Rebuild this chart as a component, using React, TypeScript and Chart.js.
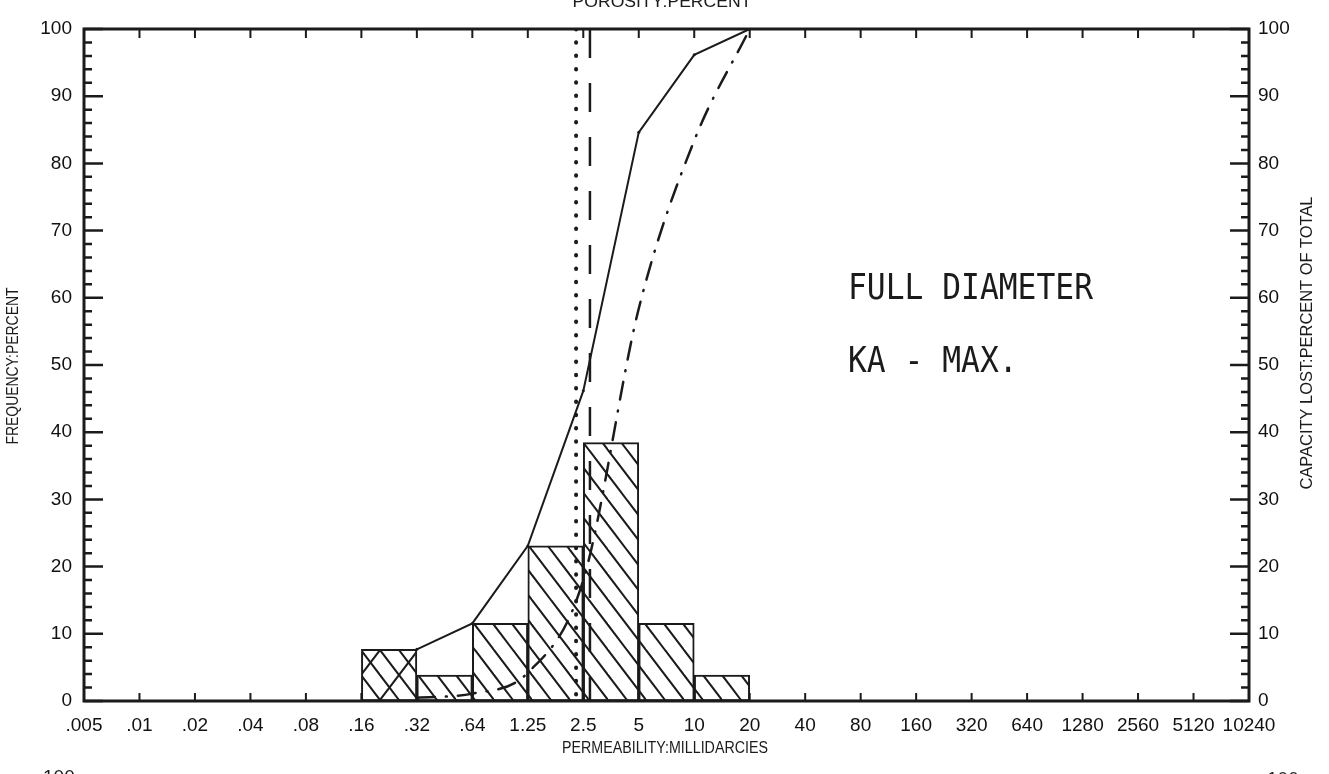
import React, { useEffect, useRef } from 'react';
import { Chart, registerables } from 'chart.js';

Chart.register(...registerables);

// ---- data ----
const xTickLabels = ['.005', '.01', '.02', '.04', '.08', '.16', '.32', '.64', '1.25', '2.5', '5', '10', '20', '40', '80', '160', '320', '640', '1280', '2560', '5120', '10240'];
const histFirstBinIndex = 5; // first histogram bin starts at .16
const frequencyPercent = [7.69, 3.85, 11.54, 23.08, 38.46, 11.54, 3.85];
const cumulativeIndex = [6, 7, 8, 9, 10, 11, 12];
const cumulativeFrequency = [7.69, 11.54, 23.08, 46.15, 84.62, 96.15, 100];
const capacityIndex = [6, 7, 8, 9, 10, 11, 12];
const capacityLost = [0.5, 1.1, 4.2, 18, 58.4, 83.4, 100];
const geometricMeanIndex = 8.87; // dotted vertical
const medianIndex = 9.12; // dashed vertical
const yMajorStep = 10;
const yMinorStep = 2;

const SANS = "'Liberation Sans', Arial, Helvetica, sans-serif";
const INK = '#1b1b1b';

function makeHatch(cross: boolean): CanvasPattern | string {
  // tile holds two "\" strokes; the cross variant adds one sparser "/" stroke
  const w = 38, h = 50;
  const c = document.createElement('canvas');
  c.width = w; c.height = h;
  const g = c.getContext('2d');
  if (!g) return 'transparent';
  g.fillStyle = '#ffffff';
  g.fillRect(0, 0, w, h);
  g.strokeStyle = INK;
  g.lineWidth = 2;
  const step = w / 2;
  for (let dx = -2 * w; dx <= 2 * w; dx += step) {
    g.beginPath(); g.moveTo(dx - w, -h); g.lineTo(dx + w, h); g.lineTo(dx + 2 * w, 2 * h); g.stroke();
  }
  if (cross) {
    for (const dx of [-w, 0, w]) {
      g.beginPath(); g.moveTo(dx - w, 2 * h); g.lineTo(dx + 2 * w, -h); g.stroke();
    }
  }
  return g.createPattern(c, 'repeat') || 'transparent';
}

// draws text squeezed horizontally to a given width (narrow plotter lettering)
function squeezedText(ctx: CanvasRenderingContext2D, text: string, cx: number, cy: number, width: number, rotation: number) {
  const w = ctx.measureText(text).width;
  ctx.save();
  ctx.translate(cx, cy);
  ctx.rotate(rotation);
  ctx.scale(width / w, 1);
  ctx.textAlign = 'center';
  ctx.fillText(text, 0, 0);
  ctx.restore();
}

const decorPlugin = {
  id: 'decor',
  afterDraw(chart: any) {
    const { ctx, chartArea } = chart;
    const { left, right, top, bottom } = chartArea;
    const x = chart.scales.x;
    const y = chart.scales.y;
    const y1 = chart.scales.y1;
    ctx.save();
    ctx.strokeStyle = INK;
    ctx.fillStyle = INK;
    // frame
    ctx.lineWidth = 3;
    ctx.strokeRect(left, top, right - left, bottom - top);
    // inward y ticks
    ctx.lineWidth = 2.5;
    for (let v = 0; v <= 100; v += yMinorStep) {
      const major = v % yMajorStep === 0;
      const py = y.getPixelForValue(v);
      const py1 = y1.getPixelForValue(v);
      ctx.beginPath();
      ctx.moveTo(left, py); ctx.lineTo(left + (major ? 19 : 8), py);
      ctx.moveTo(right, py1); ctx.lineTo(right - (major ? 19 : 8), py1);
      ctx.stroke();
    }
    // inward x ticks (bottom and top)
    ctx.lineWidth = 2;
    for (let i = 1; i < xTickLabels.length - 1; i++) {
      const px = x.getPixelForValue(i);
      ctx.beginPath();
      ctx.moveTo(px, bottom); ctx.lineTo(px, bottom - 8);
      ctx.moveTo(px, top); ctx.lineTo(px, top + 9);
      ctx.stroke();
    }
    // axis titles
    ctx.font = `16px ${SANS}`;
    ctx.textBaseline = 'middle';
    squeezedText(ctx, 'PERMEABILITY:MILLIDARCIES', 665, 749, 206, 0);
    squeezedText(ctx, 'FREQUENCY:PERCENT', 14, 366, 157, -Math.PI / 2);
    squeezedText(ctx, 'CAPACITY LOST:PERCENT OF TOTAL', 1308, 343, 293, -Math.PI / 2);
    // top: caption of the next chart, cut by the page edge
    ctx.textBaseline = 'alphabetic';
    squeezedText(ctx, 'POROSITY:PERCENT', 662, 7, 179, 0);
    // bottom: first tick of the next chart, cut by the page edge
    ctx.font = `19px ${SANS}`;
    ctx.textAlign = 'left';
    ctx.fillText('100', 43, 783);
    ctx.fillText('100', 1267, 785);
    // plotter annotation
    ctx.font = "35px 'DejaVu Sans Mono', monospace";
    const line1 = 'FULL DIAMETER';
    const sx = 245 / ctx.measureText(line1).width;
    ctx.save();
    ctx.translate(848, 299);
    ctx.scale(sx, 1);
    ctx.fillText(line1, 0, 0);
    ctx.restore();
    ctx.save();
    ctx.translate(848, 372);
    ctx.scale(sx, 1);
    ctx.fillText('KA - MAX.', 0, 0);
    ctx.restore();
    ctx.restore();
  },
};

export default function App() {
  const ref = useRef<HTMLCanvasElement | null>(null);

  useEffect(() => {
    document.body.style.margin = '0';
    document.body.style.background = '#ffffff';
    const canvas = ref.current;
    if (!canvas) return;
    const hatch = makeHatch(false);
    const cross = makeHatch(true);

    const chart = new Chart(canvas, {
      type: 'bar',
      data: {
        datasets: [
          {
            type: 'line',
            label: 'Cumulative frequency',
            data: cumulativeIndex.map((xi, i) => ({ x: xi, y: cumulativeFrequency[i] })),
            borderColor: INK,
            borderWidth: 2,
            pointRadius: 1.5,
            pointBackgroundColor: INK,
            pointBorderWidth: 0,
            tension: 0,
            yAxisID: 'y',
            order: 1,
          } as any,
          {
            type: 'line',
            label: 'Capacity lost',
            data: capacityIndex.map((xi, i) => ({ x: xi, y: capacityLost[i] })),
            borderColor: INK,
            borderWidth: 2.5,
            borderDash: [18, 11, 1, 11],
            borderCapStyle: 'round',
            pointRadius: 0,
            cubicInterpolationMode: 'monotone',
            yAxisID: 'y1',
            order: 1,
          } as any,
          {
            type: 'line',
            label: 'Geometric mean',
            data: [{ x: geometricMeanIndex, y: 100 }, { x: geometricMeanIndex, y: 0 }],
            borderColor: INK,
            borderWidth: 4,
            borderDash: [0.5, 12.8],
            borderCapStyle: 'round',
            pointRadius: 0,
            yAxisID: 'y',
            order: 1,
          } as any,
          {
            type: 'line',
            label: 'Median',
            data: [{ x: medianIndex, y: 100 }, { x: medianIndex, y: 0 }],
            borderColor: INK,
            borderWidth: 2.5,
            borderDash: [29, 25],
            pointRadius: 0,
            yAxisID: 'y',
            order: 1,
          } as any,
          {
            type: 'bar',
            label: 'Frequency',
            data: frequencyPercent.map((v, i) => ({ x: histFirstBinIndex + i + 0.5, y: v })),
            backgroundColor: frequencyPercent.map((_, i) => (i === 0 ? cross : hatch)),
            borderColor: INK,
            borderWidth: 2,
            borderSkipped: false,
            barPercentage: 1,
            categoryPercentage: 1,
            yAxisID: 'y',
            order: 2,
          } as any,
        ],
      },
      options: {
        responsive: false,
        maintainAspectRatio: false,
        animation: false,
        layout: { padding: { top: 29, left: 0, right: 0, bottom: 0 } },
        plugins: { legend: { display: false }, tooltip: { enabled: false }, title: { display: false } },
        scales: {
          x: {
            type: 'linear',
            offset: false,
            min: 0,
            max: xTickLabels.length - 1,
            grid: { display: false, drawTicks: false, offset: false },
            border: { display: false },
            ticks: {
              stepSize: 1,
              autoSkip: false,
              maxRotation: 0,
              padding: 13,
              color: '#111',
              font: { family: SANS, size: 19 },
              callback: (v: any) => xTickLabels[Math.round(Number(v))] ?? '',
            },
            afterFit: (s: any) => { s.height = 73; },
          },
          y: {
            type: 'linear',
            position: 'left',
            min: 0,
            max: 100,
            grid: { display: false, drawTicks: false },
            border: { display: false },
            ticks: { stepSize: 10, padding: 12, color: '#111', font: { family: SANS, size: 19 } },
            afterFit: (s: any) => { s.width = 84; },
          },
          y1: {
            type: 'linear',
            position: 'right',
            min: 0,
            max: 100,
            grid: { display: false, drawTicks: false },
            border: { display: false },
            ticks: { stepSize: 10, padding: 9, color: '#111', font: { family: SANS, size: 19 } },
            afterFit: (s: any) => { s.width = 80; },
          },
        },
      },
      plugins: [decorPlugin],
    } as any);

    return () => chart.destroy();
  }, []);

  return (
    <canvas
      ref={ref}
      width={1329}
      height={774}
      style={{ position: 'fixed', left: 0, top: 0, width: '1329px', height: '774px', background: '#fff' }}
    />
  );
}
